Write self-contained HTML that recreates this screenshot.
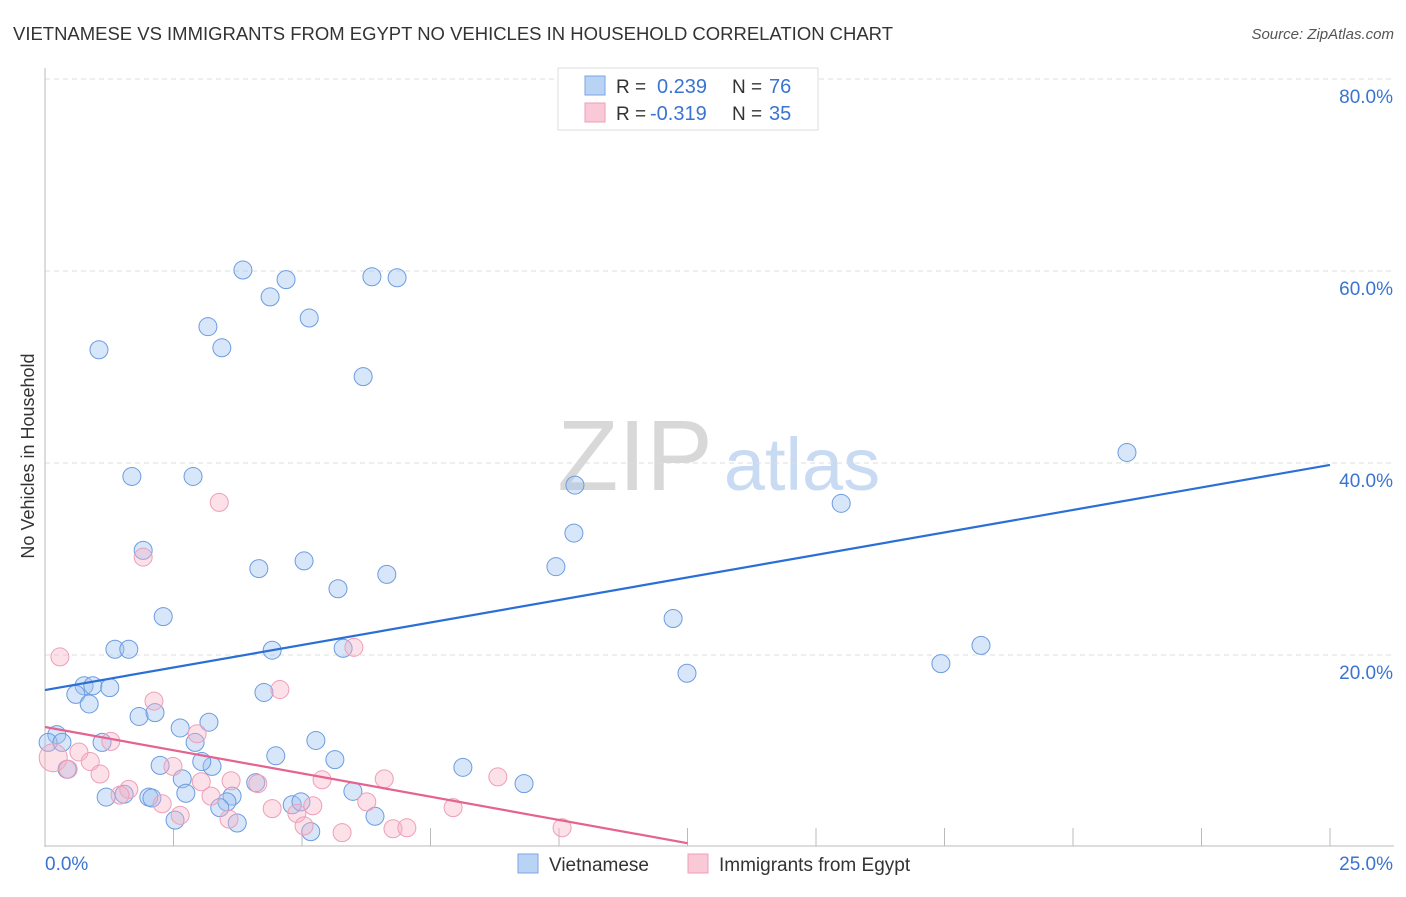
<!DOCTYPE html>
<html><head><meta charset="utf-8"><style>
body{margin:0;background:#fff;font-family:"Liberation Sans",sans-serif}
svg text{font-family:"Liberation Sans",sans-serif}
</style></head><body>
<svg id="chart" width="1406" height="892" xmlns="http://www.w3.org/2000/svg">
<text x="13" y="40" font-size="18" fill="#333" textLength="880" lengthAdjust="spacingAndGlyphs">VIETNAMESE VS IMMIGRANTS FROM EGYPT NO VEHICLES IN HOUSEHOLD CORRELATION CHART</text>
<text x="1394" y="39" font-size="15" fill="#555" font-style="italic" text-anchor="end">Source: ZipAtlas.com</text>
<text transform="translate(34,456) rotate(-90)" font-size="18" fill="#333" text-anchor="middle">No Vehicles in Household</text>
<g>
<text x="635" y="490" font-size="100" fill="#d8d8d8" font-family="Liberation Serif,serif" text-anchor="middle">ZIP</text>
<text x="802" y="490" font-size="74" fill="#c9dbf3" text-anchor="middle">atlas</text>
</g>
<g id="grid"></g>
<g id="axes"></g>
<g id="marks"></g>
<g>
<rect x="558" y="68" width="260" height="62" fill="#fff" stroke="#ddd"/>
<rect x="585" y="76" width="20" height="19" fill="#b9d3f5" stroke="#7aa6e2"/>
<rect x="585" y="103" width="20" height="19" fill="#f9c9d7" stroke="#ee9fb7"/>
<text x="616" y="93" font-size="19" fill="#333">R =</text>
<text x="657" y="93" font-size="20" fill="#3a74d0">0.239</text>
<text x="732" y="93" font-size="19" fill="#333">N =</text>
<text x="769" y="93" font-size="20" fill="#3a74d0">76</text>
<text x="616" y="120" font-size="19" fill="#333">R =</text>
<text x="650" y="120" font-size="20" fill="#3a74d0">-0.319</text>
<text x="732" y="120" font-size="19" fill="#333">N =</text>
<text x="769" y="120" font-size="20" fill="#3a74d0">35</text>
</g>
<g>
<rect x="518" y="854" width="20" height="19" fill="#b9d3f5" stroke="#7aa6e2"/>
<text x="549" y="871" font-size="19" fill="#333">Vietnamese</text>
<rect x="688" y="854" width="20" height="19" fill="#f9c9d7" stroke="#ee9fb7"/>
<text x="719" y="871" font-size="19" fill="#333">Immigrants from Egypt</text>
</g>
</svg>
<script>
const yTicks=[20,40,60,80];
const yTickLabels=["20.0%","40.0%","60.0%","80.0%"];
const xEndLabels=["0.0%","25.0%"];
const blueX=[3.85,4.69,6.36,6.85,4.38,5.14,3.17,1.05,3.44,6.19,21.05,1.69,2.88,10.31,15.49,10.29,1.91,4.16,5.04,9.94,6.65,5.70,2.30,12.22,1.36,1.63,4.42,5.80,18.21,17.43,12.49,0.76,0.93,1.26,0.60,0.86,4.26,1.83,2.14,2.63,3.19,0.23,0.06,0.33,1.11,2.92,5.27,4.49,5.64,2.24,3.25,3.05,0.43,8.13,2.67,9.32,4.10,1.19,1.54,2.02,2.08,2.74,3.64,3.54,3.40,4.81,4.98,5.99,2.53,3.74,5.17,6.42];
const blueY=[60.1,59.1,59.4,59.3,57.3,55.1,54.2,51.8,52.0,49.0,41.1,38.6,38.6,37.7,35.8,32.7,30.9,29.0,29.8,29.2,28.4,26.9,24.0,23.8,20.6,20.6,20.5,20.7,21.0,19.1,18.1,16.8,16.8,16.6,15.9,14.9,16.1,13.6,14.0,12.4,13.0,11.7,10.9,10.9,10.9,10.9,11.1,9.5,9.1,8.5,8.4,8.9,8.1,8.3,7.1,6.6,6.7,5.2,5.5,5.2,5.1,5.6,5.3,4.7,4.1,4.4,4.7,5.8,2.8,2.5,1.6,3.2];
const pinkX=[0.29,3.39,1.91,6.01,4.57,2.12,2.96,1.28,0.66,0.16,0.88,0.45,1.07,2.49,3.04,1.63,2.28,3.23,3.62,4.14,1.46,2.63,3.58,4.42,5.21,4.90,5.04,5.39,6.26,5.78,6.60,6.77,7.04,7.94,8.81,10.06];
const pinkY=[19.8,35.9,30.2,20.8,16.4,15.2,11.8,11.0,9.9,9.3,8.9,8.1,7.6,8.4,6.8,6.0,4.5,5.3,6.9,6.6,5.4,3.3,2.9,4.0,4.3,3.5,2.2,7.0,4.7,1.5,7.1,1.9,2.0,4.1,7.3,2.0];
const blueTrend=[16.35,39.8];
const pinkTrend=[12.5,0.4,12.5];
const NS="http://www.w3.org/2000/svg";
const X=v=>45+v/25*1285, Y=v=>847-v*9.6;
function mk(t,a,p){const e=document.createElementNS(NS,t);for(const k in a)e.setAttribute(k,a[k]);p.appendChild(e);return e;}
const grid=document.getElementById('grid'),axes=document.getElementById('axes'),marks=document.getElementById('marks');
yTicks.forEach((t,i)=>{
 const l=mk('line',{x1:45,x2:1394,y1:Y(t),y2:Y(t),stroke:'#ddd','stroke-dasharray':'5,4'},grid);
 
 
 const tx=mk('text',{x:1393,y:Y(t)+24,'font-size':19,fill:'#3a74d0','text-anchor':'end'},axes);
 tx.textContent=yTickLabels[i];
 
 
});
const yax=mk('line',{x1:45,x2:45,y1:68,y2:847,stroke:'#bbb'},axes);


const xax=mk('line',{x1:45,x2:1394,y1:846,y2:846,stroke:'#bbb'},axes);


for(let i=1;i<=10;i++){const t=mk('line',{x1:X(i*2.5),x2:X(i*2.5),y1:828,y2:846,stroke:'#bbb'},axes);
 
 }
const xl0=mk('text',{x:45,y:870,'font-size':19,fill:'#3a74d0'},axes);xl0.textContent=xEndLabels[0];


const xl1=mk('text',{x:1393,y:870,'font-size':19,fill:'#3a74d0','text-anchor':'end'},axes);xl1.textContent=xEndLabels[1];


function pts(xs,ys,fill,stroke,name){xs.forEach((x,i)=>{const r=(name==='egypt-point'&&i===9)?14:9;
 const c=mk('circle',{cx:X(x),cy:Y(ys[i]),r:r,fill:fill,stroke:stroke,'stroke-width':1},marks);
 
 });}
pts(blueX,blueY,'rgba(160,196,240,0.42)','#6c9ce0','vietnamese-point');
pts(pinkX,pinkY,'rgba(246,176,198,0.38)','#ee9fb8','egypt-point');
const bl=mk('line',{x1:X(0),y1:Y(blueTrend[0]),x2:X(25),y2:Y(blueTrend[1]),stroke:'#2a6fd6','stroke-width':2.2},marks);


const pl=mk('line',{x1:X(0),y1:Y(pinkTrend[0]),x2:X(pinkTrend[2]),y2:Y(pinkTrend[1]),stroke:'#e4638f','stroke-width':2.2},marks);


</script>
</body></html>
